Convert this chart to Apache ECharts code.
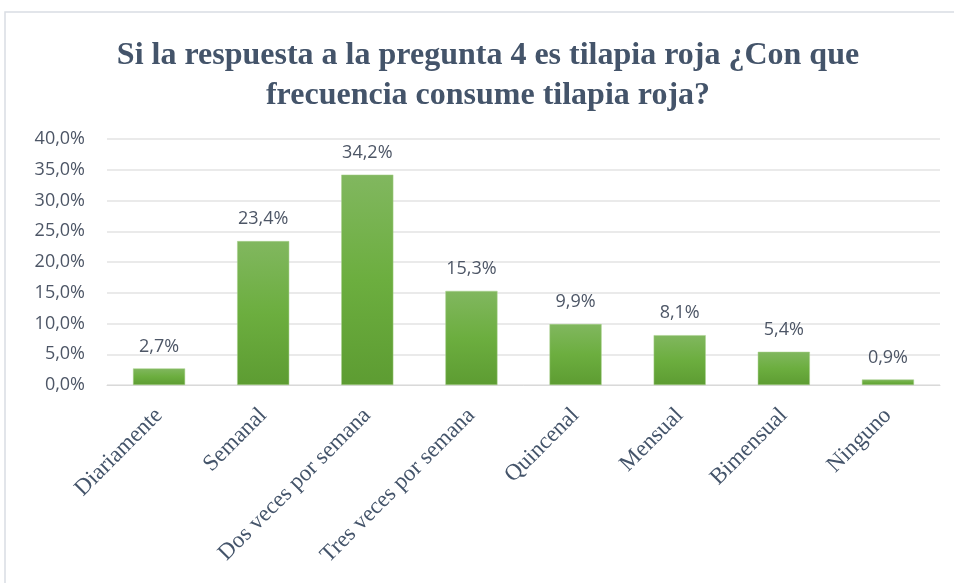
<!DOCTYPE html>
<html>
<head>
<meta charset="utf-8">
<script src="https://cdn.jsdelivr.net/npm/echarts@6/dist/echarts.min.js"></script>
<style>
  html, body { margin: 0; padding: 0; background: #fff; }
  #chart { width: 954px; height: 583px; }
</style>
</head>
<body>
<div id="chart"></div>
<script>
  // categorías y porcentajes
  const categories = ['Diariamente', 'Semanal', 'Dos veces por semana', 'Tres veces por semana',
    'Quincenal', 'Mensual', 'Bimensual', 'Ninguno']
  const values = [2.7, 23.4, 34.2, 15.3, 9.9, 8.1, 5.4, 0.9]
  const yTicks = [0, 5, 10, 15, 20, 25, 30, 35, 40]

  const fmt = (v) => v.toFixed(1).replace('.', ',') + '%'

  const myChart = echarts.init(document.getElementById('chart'))

  const option = {
    title: {
      text: 'Si la respuesta a la pregunta 4 es tilapia roja ¿Con que\nfrecuencia consume tilapia roja?',
      left: 483,
      top: 31,
      textAlign: 'center',
      textStyle: {
        fontFamily: '"Liberation Serif", "Times New Roman", serif',
        fontWeight: 'bold',
        fontSize: 32,
        lineHeight: 40,
        color: '#44546a'
      }
    },
    graphic: [
      {
        type: 'rect',
        shape: { x: 5, y: 12, width: 980, height: 620 },
        style: { fill: 'none', stroke: '#d9dde3', lineWidth: 1.5 },
        silent: true
      }
    ],
    grid: {
      left: 107,
      right: 14,
      top: 139,
      bottom: 198
    },
    xAxis: {
      type: 'category',
      data: categories,
      axisLine: { lineStyle: { color: '#d9d9d9' } },
      axisTick: { show: false },
      axisLabel: {
        rotate: 45,
        interval: 0,
        margin: 27,
        fontFamily: '"Liberation Serif", "Times New Roman", serif',
        fontSize: 23,
        color: '#44546a'
      }
    },
    yAxis: {
      type: 'value',
      min: yTicks[0],
      max: yTicks[yTicks.length - 1],
      interval: 5,
      splitLine: { lineStyle: { color: '#e3e3e3', width: 1.5 } },
      axisLine: { show: false },
      axisTick: { show: false },
      axisLabel: {
        margin: 22,
        formatter: (v) => fmt(v),
        fontFamily: '"Open Sans", "Liberation Sans", sans-serif',
        fontSize: 18,
        color: '#4d5666'
      }
    },
    series: [
      {
        type: 'bar',
        data: values,
        barWidth: '50%',
        itemStyle: {
          color: new echarts.graphic.LinearGradient(0, 0, 0, 1, [
            { offset: 0, color: '#81b75f' },
            { offset: 0.5, color: '#6cae3f' },
            { offset: 1, color: '#5d9c32' }
          ]),
          borderColor: '#a8d08d',
          borderWidth: 0.5
        },
        label: {
          show: true,
          position: 'top',
          distance: 13,
          formatter: (p) => fmt(p.value),
          fontFamily: '"Open Sans", "Liberation Sans", sans-serif',
          fontSize: 18,
          color: '#4d5666'
        }
      }
    ]
  }

  myChart.setOption(option)
</script>
</body>
</html>
